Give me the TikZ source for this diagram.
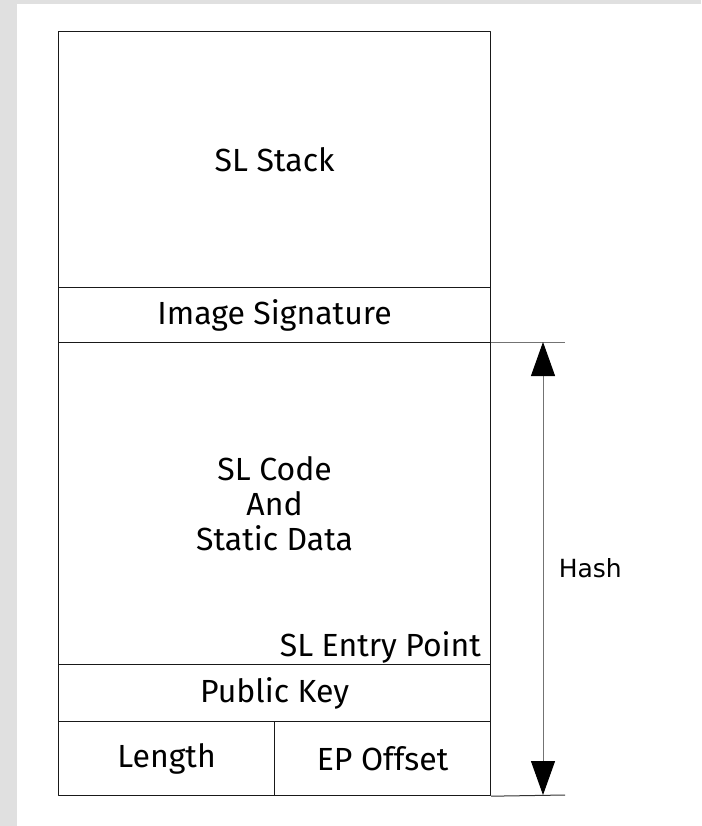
\documentclass[tikz,border=0pt]{standalone}
\usepackage{fontspec}
\setmainfont{Fira Sans}
\newfontfamily\hashfont{DejaVu Sans}
\usetikzlibrary{arrows.meta}
\begin{document}
\begin{tikzpicture}[x=1pt, y=-1pt, line join=round, font=\fontsize{32}{35}\selectfont,
	cell/.style={draw=black!90, line width=1.2pt, inner sep=0pt, anchor=north west},
	dim/.style={draw=black!55, line width=1pt},
	tip/.tip={Triangle[length=34pt,width=24pt,color=black]}]
	% background frame
	\fill [black!12] (0,0) rectangle (701,826);
	\fill [white] (17,4) rectangle (701,826);
	\useasboundingbox (0,0) rectangle (701,826);
	% memory layout
	\node [cell, minimum width=432pt, minimum height=256pt] (stack) at (58,31) {SL Stack};
	\node [cell, minimum width=432pt, minimum height=55pt] (sig) at (58,287) {Image Signature};
	\node [cell, minimum width=432pt, minimum height=322pt, align=center] (code) at (58,342) {SL Code\\And\\Static Data};
	\node [cell, minimum width=432pt, minimum height=57pt] (key) at (58,664) {Public Key};
	\node [cell, minimum width=216pt, minimum height=74pt] (len) at (58,721) {Length};
	\node [cell, minimum width=216pt, minimum height=74pt] (ep) at (274,721) {EP Offset};
	\node [anchor=base east, inner sep=0pt] (entry) at ([xshift=-10pt, yshift=9pt]code.south east) {SL Entry Point};
	% hash range
	\coordinate (top) at (565,342);
	\coordinate (bot) at (565,795);
	\draw [dim] (code.north east) -- (top);
	\draw [dim, draw=black!80] (ep.south east) -- (bot);
	\draw [dim, tip-tip]
		([xshift=-22pt]top) -- ([xshift=-22pt]bot) node [midway, right=12pt, font=\hashfont\fontsize{25}{30}\selectfont] (hash) {Hash};
\end{tikzpicture}
\end{document}
